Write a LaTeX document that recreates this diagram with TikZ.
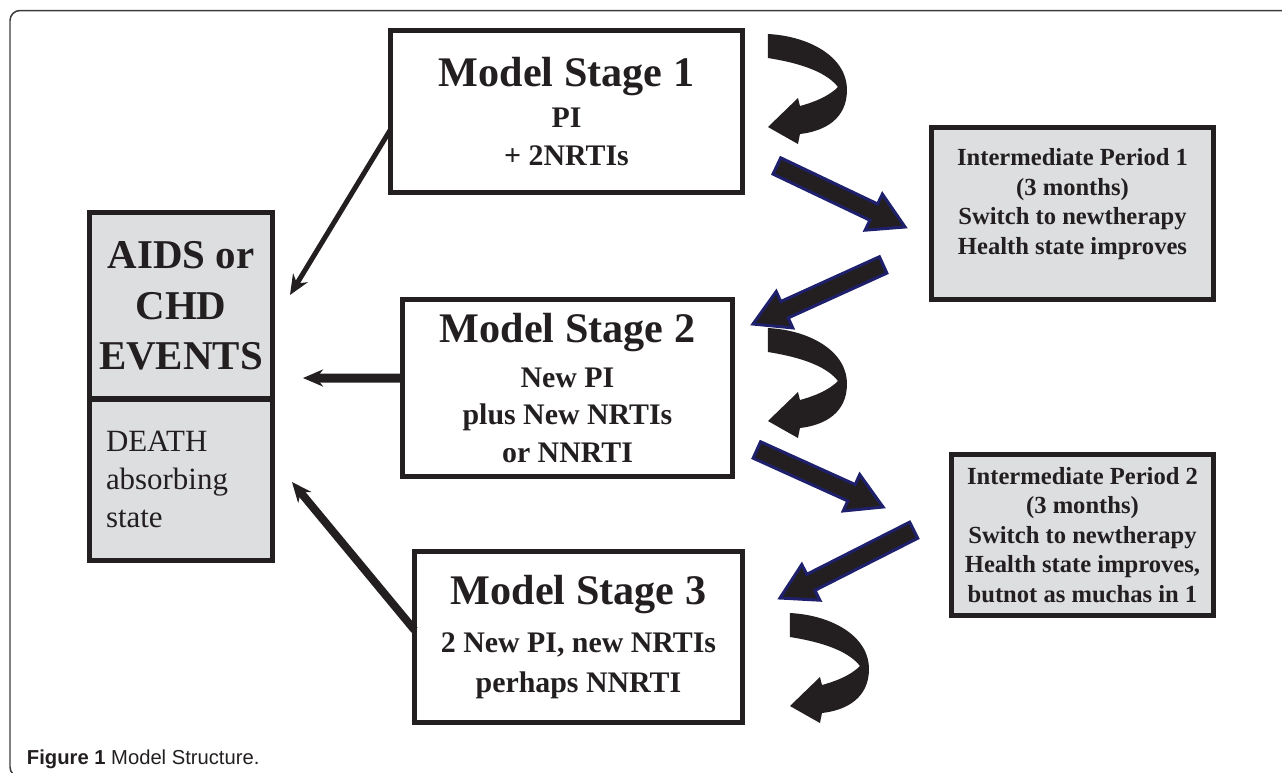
\documentclass[tikz,border=0pt]{standalone}
\usepackage{fontspec}
\setmainfont{Liberation Serif}
\setsansfont{Liberation Sans}
\usepackage{xcolor}
\usetikzlibrary{arrows.meta,shapes.arrows,positioning}
\definecolor{ink}{RGB}{35,31,32}
\definecolor{navyline}{RGB}{30,32,108}
\definecolor{boxgray}{RGB}{221,222,224}
\definecolor{framegray}{RGB}{60,60,60}
\newcommand{\stagehead}[1]{{\fontsize{24}{26}\selectfont #1}}

\begin{document}
\begin{tikzpicture}[x=0.02cm,y=-0.02cm,every node/.style={outer sep=0pt},
    stage/.style={draw=ink,line width=0.1cm,align=center,text=ink,inner sep=0pt,
      font=\bfseries\fontsize{17}{21.6}\selectfont},
    period/.style={draw=ink,fill=boxgray,line width=0.1cm,text=ink,inner sep=0pt,
      font=\bfseries\fontsize{14}{16.8}\selectfont},
    event/.style={draw=ink,fill=boxgray,line width=0.1cm,minimum width=3.66cm,text=ink},
    toevent/.style={draw=ink,line width=#1,-{Stealth[length=0.4cm,width=0.34cm]}},
    bluearr/.style={single arrow,draw=navyline,fill=ink,line width=0.06cm,
      inner xsep=0pt,inner ysep=0.15cm,single arrow head extend=0.22cm,
      single arrow tip angle=60,minimum height=#1,pos=1,sloped,allow upside down,
      anchor=tip},
    hook/.pic={\fill[ink] (0,0) .. controls (40,2) and (79,22) .. (79,56)
      .. controls (79,84) and (58,97) .. (32,100) -- (30,110) -- (0,93) -- (30,64)
      -- (32,72) .. controls (50,67) and (62,61) .. (70,53)
      .. controls (60,40) and (38,30) .. (0,24) -- cycle;}]

  \useasboundingbox (0,0) rectangle (1282,772);
  \draw[framegray,line width=0.03cm,rounded corners=0.2cm]
    (1300,10.5) -- (10,10.5) -- (10,777) -- (1300,777);

  % stages
  \node[stage,minimum width=7.04cm,minimum height=3.24cm] (s1) at (566.5,111.5)
    {\stagehead{Model Stage 1}\\[2pt] PI\\ + 2NRTIs};
  \node[stage,minimum width=6.6cm,minimum height=3.54cm] (s2) at (567.5,388)
    {\stagehead{Model Stage 2}\\[4pt] New PI\\ plus New NRTIs\\ or NNRTI};
  \node[stage,minimum width=6.56cm,minimum height=3.42cm] (s3) at (578.5,637)
    {\stagehead{Model Stage 3}\\[6pt] 2 New PI, new NRTIs\\[1pt] perhaps NNRTI};

  % absorbing states
  \node[event,minimum height=3.73cm,align=center,
    font=\bfseries\fontsize{23.3}{28.5}\selectfont] (ev) at (181,305.75)
    {AIDS or\\ CHD\\ EVENTS};
  \node[event,minimum height=3.23cm,text width=3cm,inner xsep=0.33cm,align=left,
    font=\fontsize{17.6}{21.6}\selectfont] (death) at (181,479.75)
    {DEATH\\ absorbing\\ state};

  % intermediate periods
  \node[period,minimum width=5.64cm,minimum height=3.44cm] (i1) at (1072.5,213.5)
    {\parbox[c][3.44cm][t]{5.64cm}{\centering\vspace*{0.42cm}Intermediate Period 1\\
     (3 months)\\ Switch to newtherapy\\ Health state improves}};
  \node[period,align=center,minimum width=5.24cm,minimum height=3.22cm] (i2) at (1082.5,535)
    {Intermediate Period 2\\ (3 months)\\ Switch to newtherapy\\
     Health state improves,\\ butnot as muchas in 1};

  % into the absorbing states
  \draw[toevent=0.1cm] ([shift={(0,18)}]s1.west) -- ([shift={(17.5,-10.75)}]ev.east);
  \draw[toevent=0.18cm] ([shift={(0,-10)}]s2.west) -- ([shift={(30.5,72.25)}]ev.east);
  \draw[toevent=0.16cm] ([shift={(0,-7)}]s3.west) -- ([shift={(19.5,2.25)}]death.east);

  % switching therapy
  \path ([shift={(34.5,-26.5)}]s1.south east) -- ([shift={(-26.5,13.5)}]i1.west)
    node[bluearr=2.84cm] {};
  \path ([shift={(-48.5,-34.5)}]i1.south west) -- ([shift={(20.5,24.5)}]s2.north east)
    node[bluearr=2.86cm] {};
  \path ([shift={(24.5,62)}]s2.east) -- ([shift={(-68.5,-28)}]i2.west)
    node[bluearr=2.77cm] {};
  \path ([shift={(-37.5,-5)}]i2.west) -- ([shift={(37.5,46.5)}]s3.north east)
    node[bluearr=3cm] {};

  % staying in a stage
  \pic at ([shift={(25.5,3.5)}]s1.north east) {hook};
  \pic at ([shift={(35.5,28.5)}]s2.north east) {hook};
  \pic at ([shift={(47.5,61.5)}]s3.north east) {hook};

  \node[anchor=base west,font=\sffamily\fontsize{11.5}{13}\selectfont,text=ink,
    inner sep=0pt] (cap) at (27,764) {\textbf{Figure 1} Model Structure.};
\end{tikzpicture}
\end{document}
